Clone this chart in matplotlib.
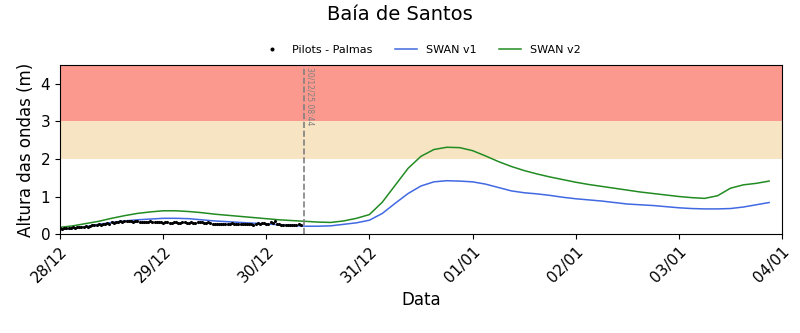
import matplotlib
matplotlib.use("Agg")
import matplotlib.pyplot as plt
import matplotlib.dates as mdates
import numpy as np
from datetime import datetime, timedelta

# --- data -------------------------------------------------------------
start = datetime(2025, 12, 28)
end = datetime(2026, 1, 4)
forecast_time = datetime(2025, 12, 30, 8, 44)

# buoy observations, every 30 min from 28/12 00:00
obs_hs = [0.15, 0.14, 0.16, 0.15, 0.17, 0.16, 0.18, 0.17, 0.19, 0.18, 0.19, 0.20,
          0.21, 0.20, 0.22, 0.23, 0.24, 0.23, 0.26, 0.25, 0.27, 0.28, 0.29, 0.28,
          0.31, 0.30, 0.33, 0.32, 0.35, 0.33, 0.34, 0.35, 0.36, 0.34, 0.33, 0.34,
          0.35, 0.33, 0.33, 0.32, 0.32, 0.33, 0.34, 0.32, 0.31, 0.32, 0.33, 0.31,
          0.30, 0.32, 0.31, 0.30, 0.30, 0.31, 0.32, 0.30, 0.29, 0.31, 0.31, 0.30,
          0.30, 0.31, 0.29, 0.30, 0.31, 0.32, 0.32, 0.30, 0.30, 0.31, 0.29, 0.28,
          0.27, 0.28, 0.28, 0.27, 0.26, 0.27, 0.27, 0.28, 0.29, 0.28, 0.27, 0.26,
          0.26, 0.27, 0.28, 0.28, 0.27, 0.28, 0.25, 0.26, 0.29, 0.28, 0.30, 0.29,
          0.27, 0.28, 0.31, 0.30, 0.35, 0.28, 0.26, 0.25, 0.24, 0.25, 0.25, 0.24,
          0.23, 0.25, 0.24, 0.26, 0.25]

# model output, 3-hourly from 28/12 00:00
swan_v1 = [0.12, 0.15, 0.20, 0.26, 0.31, 0.35, 0.38, 0.40,
           0.42, 0.42, 0.41, 0.38, 0.35, 0.33, 0.31, 0.29,
           0.27, 0.25, 0.23, 0.21, 0.21, 0.22, 0.26, 0.30,
           0.37, 0.55, 0.82, 1.08, 1.28, 1.39, 1.42, 1.41,
           1.39, 1.33, 1.24, 1.15, 1.10, 1.07, 1.03, 0.98,
           0.94, 0.91, 0.88, 0.84, 0.80, 0.78, 0.76, 0.73,
           0.70, 0.68, 0.67, 0.67, 0.68, 0.72, 0.78, 0.84]
swan_v2 = [0.18, 0.22, 0.28, 0.34, 0.42, 0.49, 0.55, 0.59,
           0.62, 0.62, 0.60, 0.57, 0.53, 0.50, 0.47, 0.44,
           0.41, 0.38, 0.36, 0.34, 0.32, 0.31, 0.35, 0.42,
           0.52, 0.85, 1.30, 1.75, 2.07, 2.25, 2.31, 2.30,
           2.22, 2.08, 1.93, 1.80, 1.69, 1.60, 1.52, 1.45,
           1.38, 1.32, 1.27, 1.22, 1.17, 1.12, 1.08, 1.04,
           1.00, 0.97, 0.95, 1.02, 1.22, 1.31, 1.35, 1.41]

obs_time = [start + timedelta(minutes=30 * i) for i in range(len(obs_hs))]
model_time = [start + timedelta(hours=3 * i) for i in range(len(swan_v1))]

# --- figure -----------------------------------------------------------
fig = plt.figure(figsize=(8, 3.33), dpi=100)
ax = fig.add_axes([0.075, 0.297, 0.9025, 0.508])

ax.axhspan(2, 3, color="wheat", alpha=0.8, lw=0)
ax.axhspan(3, 4.5, color="salmon", alpha=0.8, lw=0)

ax.plot(model_time, swan_v1, color="royalblue", lw=1.1, label="SWAN v1")
ax.plot(model_time, swan_v2, color="forestgreen", lw=1.1, label="SWAN v2")
ax.plot(obs_time, obs_hs, "k.", markersize=2.5, label="Pilots - Palmas")

ax.axvline(forecast_time, color="gray", ls="--", lw=1.2)
ax.text(forecast_time + timedelta(hours=0.5), 4.45,
        forecast_time.strftime("%d/%m/%y %H:%M"),
        rotation=270, va="top", ha="left", fontsize=5.5, color="gray")

ax.set_xlim(start, end)
ax.set_ylim(0, 4.5)
ax.xaxis.set_major_locator(mdates.DayLocator())
ax.xaxis.set_major_formatter(mdates.DateFormatter("%d/%m"))
plt.setp(ax.get_xticklabels(), rotation=45, ha="right", rotation_mode="anchor")
ax.tick_params(labelsize=11)

ax.set_xlabel("Data", fontsize=12)
ax.set_ylabel("Altura das ondas (m)", fontsize=12)
fig.suptitle("Baía de Santos", fontsize=14, y=0.985)

# legend order: observations first, then the two model runs
handles, labels = ax.get_legend_handles_labels()
order = [2, 0, 1]
ax.legend([handles[i] for i in order], [labels[i] for i in order],
          loc="lower center", bbox_to_anchor=(0.5, 1.0), ncol=3,
          frameon=False, fontsize=8, markerscale=1.5)

fig.savefig("out.png", dpi=100)
